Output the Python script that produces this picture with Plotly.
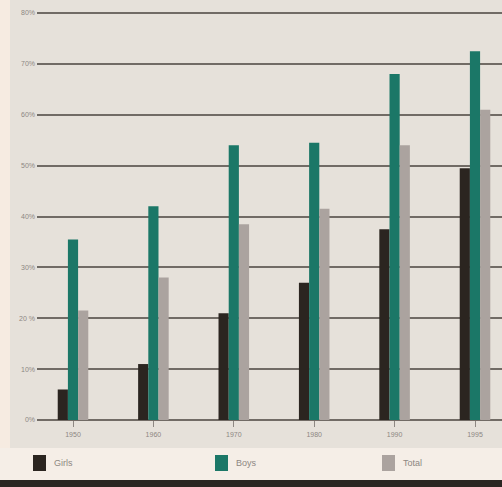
import plotly.graph_objects as go

# Share of pupils by year (percent)
years = ["1950", "1960", "1970", "1980", "1990", "1995"]
girls = [6, 11, 21, 27, 37.5, 49.5]
boys = [35.5, 42, 54, 54.5, 68, 72.5]
total = [21.5, 28, 38.5, 41.5, 54, 61]

series_names = ["Girls", "Boys", "Total"]
series_colors = ["#2b2520", "#1b7767", "#aba39f"]

y_ticks = [0, 10, 20, 30, 40, 50, 60, 70, 80]
y_tick_labels = ["0%", "10%", "20 %", "30%", "40%", "50%", "60%", "70%", "80%"]

W, H = 502, 487
L, R, T, B = 37, 0, 11, 67
pw, ph = W - L - R, H - T - B
Y_TOP = 80 + 2 * 80 / (ph - 2)   # small headroom so the 80% line is drawn

# horizontal scale: first group centred at 73 px, 80.4 px between groups
X0_PX, STEP_PX = 73, 80.4
X_RANGE = [(L - X0_PX) / STEP_PX, (W - R - X0_PX) / STEP_PX]


def px_x(x):
    return (x - L) / pw


def px_y(y):
    return (H - B - y) / ph


x_pos = list(range(len(years)))

fig = go.Figure()
for name, vals, col in zip(series_names, [girls, boys, total], series_colors):
    fig.add_bar(x=x_pos, y=vals, name=name, marker_color=col, marker_line_width=0)

shapes = [
    # grey chart panel
    dict(type="rect", xref="paper", yref="paper", layer="below",
         x0=px_x(10), x1=px_x(W), y0=px_y(448), y1=px_y(0),
         fillcolor="#e6e1da", line_width=0),
    # legend band
    dict(type="rect", xref="paper", yref="paper", layer="below",
         x0=px_x(0), x1=px_x(W), y0=px_y(480), y1=px_y(448),
         fillcolor="#f5eee7", line_width=0),
    # dark strip at the foot
    dict(type="rect", xref="paper", yref="paper", layer="above",
         x0=px_x(0), x1=px_x(W), y0=px_y(H), y1=px_y(480),
         fillcolor="#2b2622", line_width=0),
]

annotations = []
# legend: colour swatch + label for each series
legend_x = [33, 215, 382]
for lx, name, col in zip(legend_x, series_names, series_colors):
    shapes.append(dict(type="rect", xref="paper", yref="paper", layer="above",
                       x0=px_x(lx), x1=px_x(lx + 13), y0=px_y(471), y1=px_y(455),
                       fillcolor=col, line_width=0))
    annotations.append(dict(xref="paper", yref="paper", x=px_x(lx + 19), y=px_y(463),
                            xanchor="left", yanchor="middle", text=name, showarrow=False,
                            font=dict(size=9, color="#8d8782")))

fig.update_layout(
    width=W, height=H,
    margin=dict(l=L, r=R, t=T, b=B, pad=0),
    paper_bgcolor="#f6ebe1",
    plot_bgcolor="#e6e1da",
    barmode="group",
    bargap=0.62,
    bargroupgap=0,
    shapes=shapes,
    annotations=annotations,
    showlegend=False,
    font=dict(family="Liberation Sans, Arial, sans-serif", color="#8d8782"),
    xaxis=dict(
        range=X_RANGE,
        tickvals=x_pos, ticktext=years,
        ticks="outside", ticklen=6, tickcolor="#8d8782", tickwidth=1,
        ticklabelstandoff=2,
        tickfont=dict(size=7, color="#8d8782"),
        showgrid=False, zeroline=False, showline=False,
        fixedrange=True,
    ),
    yaxis=dict(
        range=[0, Y_TOP],
        tickvals=y_ticks, ticktext=y_tick_labels,
        tickfont=dict(size=7, color="#8d8782"),
        showgrid=True, gridcolor="#716b65", gridwidth=2,
        zeroline=True, zerolinecolor="#716b65", zerolinewidth=2,
        showline=False, ticks="", ticklabelstandoff=1,
        fixedrange=True,
    ),
)

fig.write_html("out.html")
